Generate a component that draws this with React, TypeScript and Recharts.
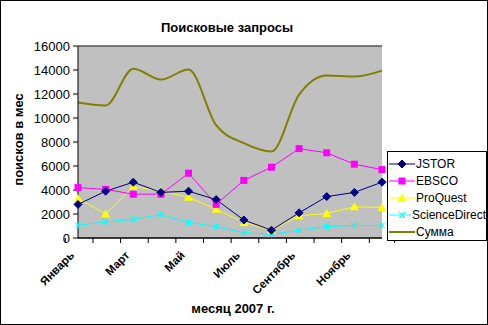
import { LineChart, Line, XAxis, YAxis, CartesianGrid, ReferenceLine } from 'recharts'

const months = ['Январь', 'Февраль', 'Март', 'Апрель', 'Май', 'Июнь', 'Июль', 'Август', 'Сентябрь', 'Октябрь', 'Ноябрь', 'Декабрь']
const jstor = [2800, 3900, 4650, 3800, 3900, 3200, 1500, 650, 2100, 3450, 3800, 4650]
const ebsco = [4200, 4050, 3650, 3650, 5400, 2800, 4800, 5900, 7450, 7100, 6150, 5700]
const proquest = [3300, 2000, 4300, 3900, 3400, 2400, 1300, 650, 1850, 2050, 2600, 2550]
const scienceDirect = [1050, 1350, 1550, 1950, 1300, 950, 450, 300, 650, 950, 1050, 1050]
const summa = [11300, 11050, 14100, 13200, 14050, 9400, 7900, 7200, 11950, 13550, 13450, 13950]
const yTicks = [0, 2000, 4000, 6000, 8000, 10000, 12000, 14000, 16000]

const data = months.map((m, i) => ({
  month: m,
  jstor: jstor[i],
  ebsco: ebsco[i],
  proquest: proquest[i],
  sd: scienceDirect[i],
  sum: summa[i],
}))

const FONT = "Arial, 'Liberation Sans', sans-serif"
const PLOT_LEFT = 78
const PLOT_RIGHT = 382
const BAND = (PLOT_RIGHT - PLOT_LEFT) / months.length

const diamond = (color: string) => (p: any) => (
  <path key={`d${p.index}`} d={`M${p.cx},${p.cy - 4}L${p.cx + 4},${p.cy}L${p.cx},${p.cy + 4}L${p.cx - 4},${p.cy}Z`} fill={color} stroke={color} />
)
const square = (color: string) => (p: any) => (
  <rect key={`s${p.index}`} x={p.cx - 3.5} y={p.cy - 3.5} width={7} height={7} fill={color} />
)
const triangle = (color: string) => (p: any) => (
  <path key={`t${p.index}`} d={`M${p.cx},${p.cy - 4.5}L${p.cx + 4.5},${p.cy + 3.5}L${p.cx - 4.5},${p.cy + 3.5}Z`} fill={color} />
)
const cross = (color: string) => (p: any) => (
  <path key={`x${p.index}`} d={`M${p.cx - 3},${p.cy - 3}L${p.cx + 3},${p.cy + 3}M${p.cx - 3},${p.cy + 3}L${p.cx + 3},${p.cy - 3}M${p.cx},${p.cy - 3}L${p.cx},${p.cy + 3}`} stroke={color} strokeWidth={1} fill="none" />
)

function MonthTick(props: any) {
  const { x, y, payload, index } = props
  const last = index === months.length - 1
  const tx = x - 3
  const ty = y + 18
  return (
    <g>
      <line x1={x - BAND / 2} y1={y} x2={x - BAND / 2} y2={y + 5} stroke="#000" />
      {last && <line x1={x + BAND / 2} y1={y} x2={x + BAND / 2} y2={y + 5} stroke="#000" />}
      {index % 2 === 0 && (
        <text x={tx} y={ty} textAnchor="end" fontSize={11.5} fontWeight="bold" fontFamily={FONT} fill="#000"
          transform={`rotate(-45 ${tx} ${ty})`}>
          {payload.value}
        </text>
      )}
    </g>
  )
}

const legendItems = [
  { name: 'JSTOR', color: '#000080', marker: 'diamond' },
  { name: 'EBSCO', color: '#FF00FF', marker: 'square' },
  { name: 'ProQuest', color: '#FFFF00', marker: 'triangle' },
  { name: 'ScienceDirect', color: '#00FFFF', marker: 'cross' },
  { name: 'Сумма', color: '#808000', marker: 'none' },
]

function LegendMarker({ color, marker }: { color: string; marker: string }) {
  const cx = 13, cy = 6
  return (
    <svg width={26} height={12} style={{ display: 'block' }}>
      <line x1={0} y1={cy} x2={26} y2={cy} stroke={color} strokeWidth={marker === 'none' ? 2 : 1} />
      {marker === 'diamond' && diamond(color)({ cx, cy, index: 0 })}
      {marker === 'square' && square(color)({ cx, cy, index: 0 })}
      {marker === 'triangle' && triangle(color)({ cx, cy, index: 0 })}
      {marker === 'cross' && cross(color)({ cx, cy, index: 0 })}
    </svg>
  )
}

export default function App() {
  return (
    <div style={{ position: 'absolute', left: 0, top: 0, width: 488, height: 325, background: '#fff', border: '1px solid #000', boxSizing: 'border-box', fontFamily: FONT }}>
      <div style={{ position: 'absolute', left: -1, top: -1 }}>
        <LineChart width={488} height={325} data={data} margin={{ top: 46, right: 106, left: 0, bottom: 0 }}>
          <CartesianGrid vertical={false} fill="#C0C0C0" stroke="#000" />
          <XAxis dataKey="month" interval={0} height={87} tickSize={0} tickMargin={0} stroke="#000" tick={<MonthTick />} />
          <YAxis yAxisId="l" domain={[0, 16000]} ticks={yTicks} width={78} stroke="#000" tickSize={5} tickMargin={3}
            tick={{ fontSize: 13, fill: '#000', fontFamily: FONT }} interval={0} />
          <YAxis yAxisId="r" orientation="right" domain={[0, 16000]} width={0} tick={false} tickLine={false} stroke="#808080" />
          <ReferenceLine yAxisId="l" y={16000} stroke="#808080" />
          <Line yAxisId="l" dataKey="sum" type="monotone" stroke="#808000" strokeWidth={2} dot={false} isAnimationActive={false} />
          <Line yAxisId="l" dataKey="sd" type="linear" stroke="#00FFFF" strokeWidth={1} dot={cross('#00FFFF')} isAnimationActive={false} />
          <Line yAxisId="l" dataKey="proquest" type="linear" stroke="#FFFF00" strokeWidth={1} dot={triangle('#FFFF00')} isAnimationActive={false} />
          <Line yAxisId="l" dataKey="ebsco" type="linear" stroke="#FF00FF" strokeWidth={1} dot={square('#FF00FF')} isAnimationActive={false} />
          <Line yAxisId="l" dataKey="jstor" type="linear" stroke="#000080" strokeWidth={1} dot={diamond('#000080')} isAnimationActive={false} />
        </LineChart>
      </div>
      <div style={{ position: 'absolute', left: 0, top: 19, width: 452, textAlign: 'center', fontSize: 13, fontWeight: 'bold' }}>
        Поисковые запросы
      </div>
      <div style={{ position: 'absolute', left: 132, top: 300, width: 200, textAlign: 'center', fontSize: 13, fontWeight: 'bold' }}>
        месяц 2007 г.
      </div>
      <div style={{ position: 'absolute', left: 17, top: 140, width: 0, height: 0 }}>
        <div style={{ position: 'absolute', left: -80, top: -9, width: 160, textAlign: 'center', fontSize: 13, fontWeight: 'bold', transform: 'rotate(-90deg)' }}>
          поисков в мес
        </div>
      </div>
      <div style={{ position: 'absolute', left: 386, top: 150, width: 100, height: 90, border: '1px solid #000', background: '#fff', boxSizing: 'border-box', paddingTop: 3 }}>
        {legendItems.map((it) => (
          <div key={it.name} style={{ display: 'flex', alignItems: 'center', height: 17, paddingLeft: 1 }}>
            <LegendMarker color={it.color} marker={it.marker} />
            <span style={{ fontSize: 12, marginLeft: 1, whiteSpace: 'nowrap' }}>{it.name}</span>
          </div>
        ))}
      </div>
    </div>
  )
}
